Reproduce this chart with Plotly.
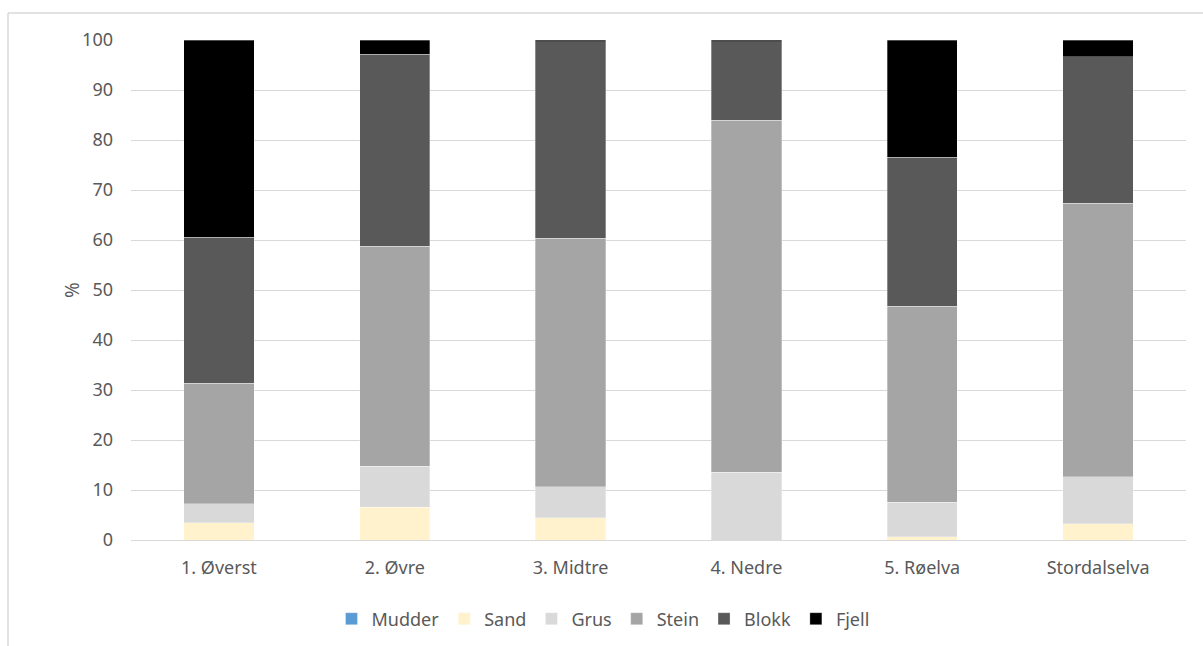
import plotly.graph_objects as go

categories = ["1. Øverst", "2. Øvre", "3. Midtre", "4. Nedre", "5. Røelva", "Stordalselva"]
mudder = [0, 0, 0, 0, 0, 0]
sand = [3.5, 6.6, 4.5, 0, 0.7, 3.3]
grus = [3.8, 8.2, 6.2, 13.6, 6.9, 9.4]
stein = [24.1, 44.0, 49.7, 70.4, 39.2, 54.7]
blokk = [29.2, 38.4, 39.3, 15.7, 29.8, 29.3]
fjell = [39.4, 2.8, 0.3, 0.3, 23.4, 3.3]

series = [
    ("Mudder", mudder, "#5B9BD5"),
    ("Sand", sand, "#FFF2CC"),
    ("Grus", grus, "#D9D9D9"),
    ("Stein", stein, "#A5A5A5"),
    ("Blokk", blokk, "#595959"),
    ("Fjell", fjell, "#000000"),
]

FONT = "Noto Sans"
TXT = "#595959"

fig = go.Figure()
for name, vals, col in series:
    fig.add_trace(go.Bar(
        x=categories, y=vals, name=name,
        marker=dict(color=col, line=dict(color="rgba(255,255,255,0.5)", width=0.6)),
    ))

W, H = 1203, 646
L, R, T, B = 131, 17, 40, 106
pw = W - L - R
ph = H - T - B

def px_x(x):
    return (x - L) / pw

def px_y(y):
    return (H - B - y) / ph

fig.update_layout(
    width=W, height=H,
    barmode="stack", bargap=0.6,
    margin=dict(l=L, r=R, t=T, b=B, autoexpand=False),
    paper_bgcolor="white", plot_bgcolor="white",
    font=dict(family=FONT, size=18, color=TXT),
    showlegend=True,
    legend=dict(orientation="h", x=px_x(603), xanchor="center", y=px_y(619), yanchor="middle",
                font=dict(size=18, color=TXT), traceorder="normal", itemwidth=30),
    xaxis=dict(showgrid=False, showline=True, linecolor="#D9D9D9", linewidth=1,
               ticks="", tickfont=dict(size=18, color=TXT), ticklabelstandoff=11,
               fixedrange=True),
    yaxis=dict(range=[0, 100], dtick=10, showgrid=True, gridcolor="#D9D9D9", gridwidth=1,
               zeroline=False, showline=False, ticks="",
               tickfont=dict(size=18, color=TXT), ticklabelstandoff=17, fixedrange=True),
    annotations=[dict(text="%", x=px_x(57), y=px_y(290), xref="paper", yref="paper",
                      showarrow=False, textangle=-90, font=dict(size=19, color=TXT))],
    shapes=[
        dict(type="line", xref="paper", yref="paper", x0=px_x(8), x1=px_x(1210),
             y0=px_y(13), y1=px_y(13), line=dict(color="#D9D9D9", width=1.5)),
        dict(type="line", xref="paper", yref="paper", x0=px_x(8), x1=px_x(8),
             y0=px_y(13), y1=px_y(660), line=dict(color="#D9D9D9", width=1.5)),
    ],
)

fig.write_html("out.html")
